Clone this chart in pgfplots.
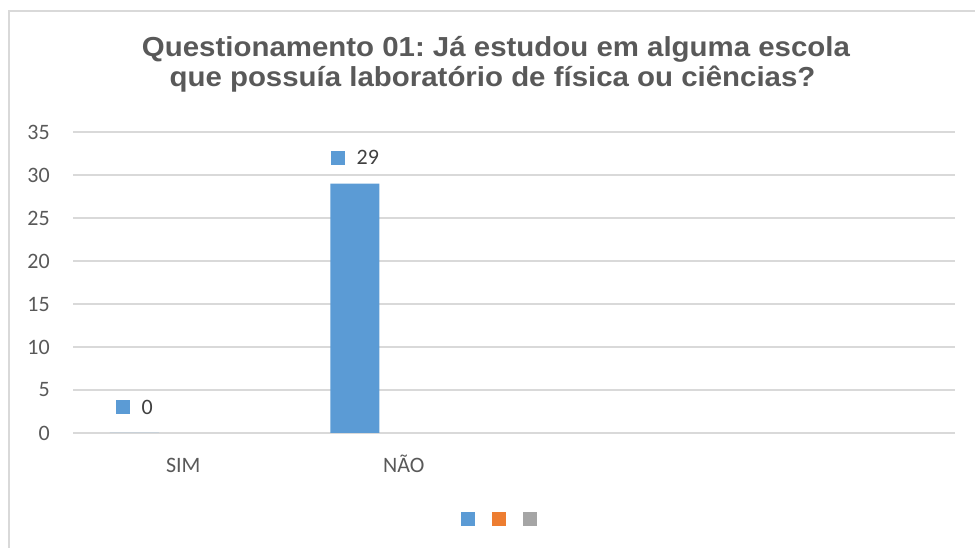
\documentclass[border=0pt]{standalone}
\usepackage{pgfplots}
\pgfplotsset{compat=1.18}
\usepackage{graphicx}
\usepackage{fontspec}
\setmainfont{Carlito}
\newfontfamily\titlefont{Liberation Sans}
\frenchspacing
\definecolor{bblue}{HTML}{5B9BD5}
\definecolor{borange}{HTML}{ED7D31}
\definecolor{bgray}{HTML}{A5A5A5}
\definecolor{gridc}{HTML}{D9D9D9}
\definecolor{txt}{HTML}{595959}
\definecolor{lbl}{HTML}{404040}
\begin{document}
\begin{tikzpicture}
\useasboundingbox (0,0) rectangle (975pt,548pt);
\draw[color=gridc, line width=1.5pt] (9pt,0) -- (9pt,537pt) -- (975pt,537pt);
\node[anchor=base, font=\titlefont\bfseries\fontsize{27.5}{33}\selectfont, text=txt, inner sep=0pt] at (496pt,491pt) {\scalebox{1.07}[1]{Questionamento 01: Já estudou em alguma escola}};
\node[anchor=base, font=\titlefont\bfseries\fontsize{27.5}{33}\selectfont, text=txt, inner sep=0pt] at (492.5pt,461pt) {\scalebox{1.07}[1]{que possuía laboratório de física ou ciências?}};
\begin{axis}[
  at={(73pt,115pt)}, anchor=south west,
  scale only axis, width=882pt, height=301pt,
  xmin=-0.5, xmax=3.5, ymin=0, ymax=35,
  ytick={0,5,...,35}, xtick={0,1}, xticklabels={SIM, NÃO},
  axis line style={draw=none}, major tick length=0pt,
  ymajorgrids, grid style={color=gridc, line width=1.3pt},
  /pgf/number format/assume math mode=true,
  tick label style={font=\fontsize{22}{26}\selectfont, text=txt},
  yticklabel style={anchor=east, inner sep=0pt, xshift=-23pt},
  xticklabel style={anchor=base, inner sep=0pt, yshift=-40pt},
  clip=false,
  ybar, bar width=49pt,
  legend columns=3,
  legend image code/.code={\fill[#1] (0pt,-7pt) rectangle (14pt,7pt);},
  legend style={at={(0.483,-0.2857)}, anchor=center, draw=none, fill=none,
    inner sep=0pt, column sep=0pt, nodes={inner sep=0pt},
    /tikz/every even column/.append style={column sep=16pt}},
]
\addplot[fill=bblue, draw=none, bar shift=-49pt,
  nodes near coords={\textcolor{bblue}{\rule{14pt}{14pt}}\hspace{12pt}\pgfmathprintnumber{\pgfplotspointmeta}},
  every node near coord/.append style={anchor=center, yshift=26pt, font=\fontsize{22}{26}\selectfont, text=lbl, inner sep=0pt}]
  coordinates {(0,0) (1,29)};
\addlegendentry{}
\addlegendimage{fill=borange, draw=none}
\addlegendentry{}
\addlegendimage{fill=bgray, draw=none}
\addlegendentry{}
\end{axis}
\end{tikzpicture}
\end{document}
